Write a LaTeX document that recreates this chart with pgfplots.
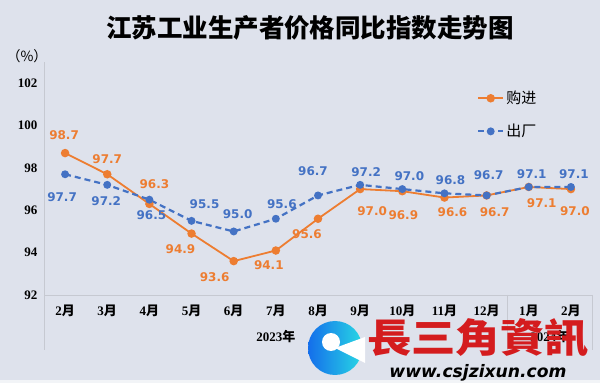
\documentclass[border=0pt]{standalone}
\usepackage{pgfplots}
\pgfplotsset{compat=1.18}
\usepackage{pgfplotstable}
\usepackage{graphicx}
\usepackage{fontspec}
\setmainfont{Liberation Serif}
\newfontfamily\cjk{Noto Sans CJK SC}
\newfontfamily\tc{Noto Sans CJK TC}
\newfontfamily\lab{DejaVu Sans}
\definecolor{bg}{RGB}{222,226,236}
\definecolor{orng}{RGB}{237,125,49}
\definecolor{blu}{RGB}{68,114,196}
\definecolor{axgray}{RGB}{198,201,209}
\definecolor{wmred}{RGB}{212,28,30}
\newcommand\yue{{\cjk 月}}

\pgfplotstableread{
x y dx dy
0 98.7 -1 18
1 97.7 0 15
2 96.3 5 20
3 94.9 -11 -16
4 93.6 -19 -16
5 94.1 -7 -15
6 95.6 -11 -15
7 97.0 12 -22
8 96.9 1 -24
9 96.6 8 -15
10 96.7 8 -17
11 97.1 13 -16
12 97.0 4 -22
}\buy
\pgfplotstableread{
x y dx dy
0 97.7 -3 -23
1 97.2 -1 -16
2 96.5 2 -15
3 95.5 13 17
4 95.0 4 17
5 95.6 6 15
6 96.7 -5 24
7 97.2 6 13
8 97.0 7 13
9 96.8 6 13
10 96.7 2 20
11 97.1 3 13
12 97.1 3 13
}\sell

\begin{document}
\begin{tikzpicture}
\fill[bg] (0pt,0pt) rectangle (600pt,383pt);
\fill[white!60!bg] (0pt,0pt) rectangle (600pt,3pt);
\node[font=\cjk\bfseries\fontsize{25.5}{26}\selectfont] at (310pt,355pt) {江苏工业生产者价格同比指数走势图};
\node[font=\cjk\fontsize{14}{14}\selectfont] at (27pt,327pt) {（\%）};
\begin{axis}[
  at={(44pt,88pt)}, anchor=south west,
  scale only axis, width=548pt, height=233pt,
  xmin=-0.5, xmax=12.5, ymin=92, ymax=103,
  axis lines*=left,
  axis line style={draw=axgray, line width=0.8pt},
  ytick={92,94,...,102},
  xtick={0,...,12},
  xticklabels={2\yue,3\yue,4\yue,5\yue,6\yue,7\yue,8\yue,9\yue,10\yue,11\yue,12\yue,1\yue,2\yue},
  major tick length=0pt,
  tick label style={font=\fontsize{13}{13}\selectfont\bfseries},
  yticklabel style={xshift=-3pt},
  xticklabel style={yshift=-6pt},
  /pgf/number format/assume math mode=true,
  clip=false,
  legend style={draw=none, fill=none, at={(0.79,0.884)}, anchor=north west,
    font=\cjk\fontsize{15}{15}\selectfont, row sep=15pt, inner sep=0pt,
    nodes={inner sep=2pt}},
  legend cell align=left,
  legend image code/.code={\draw[mark repeat=2,mark phase=2,#1] plot coordinates {(0pt,0pt) (12.5pt,0pt) (25pt,0pt)};},
]
\addplot[orng, line width=1.8pt, mark=*, mark size=3.3pt, mark options={solid},
  nodes near coords={\pgfmathprintnumber[fixed,fixed zerofill,precision=1]{\pgfplotspointmeta}},
  point meta=y,
  visualization depends on={\thisrow{dx}\as\dx},
  visualization depends on={\thisrow{dy}\as\dy},
  every node near coord/.append style={anchor=center, xshift=\dx pt, yshift=\dy pt,
    font=\lab\bfseries\fontsize{12}{12}\selectfont, text=orng}] table[x=x,y=y] {\buy};
\addlegendentry{购进}
\addplot[blu, line width=2.2pt, dash pattern=on 6pt off 4pt, mark=*, mark size=2.8pt, mark options={solid},
  nodes near coords={\pgfmathprintnumber[fixed,fixed zerofill,precision=1]{\pgfplotspointmeta}},
  point meta=y,
  visualization depends on={\thisrow{dx}\as\dx},
  visualization depends on={\thisrow{dy}\as\dy},
  every node near coord/.append style={anchor=center, xshift=\dx pt, yshift=\dy pt,
    font=\lab\bfseries\fontsize{12}{12}\selectfont, text=blu}] table[x=x,y=y] {\sell};
\addlegendentry{出厂}
\draw[axgray, line width=0.8pt] (axis cs:-0.5,92) -- ++(0pt,-55pt);
\draw[axgray, line width=0.8pt] (axis cs:10.5,92) -- ++(0pt,-55pt);
\draw[axgray, line width=0.8pt] (axis cs:12.5,92) -- ++(0pt,-55pt);
\node[font=\fontsize{13}{13}\selectfont\bfseries] at (axis cs:5,92) [yshift=-42pt] {2023{\cjk 年}};
\node[font=\fontsize{13}{13}\selectfont\bfseries] at (axis cs:11.5,92) [yshift=-42pt] {2024{\cjk 年}};
\end{axis}
% watermark overlay
\shade[left color={rgb,255:red,20;green,110;blue,235}, right color={rgb,255:red,40;green,215;blue,228}]
  (335pt,35pt) circle (27pt);
\fill[white] (335pt,35pt) -- (365pt,46pt) -- (365pt,20pt) -- cycle;
\fill[white] (331pt,41pt) circle (9pt);
\node[inner sep=0pt, text=wmred] at (478pt,45pt) {\resizebox{222pt}{34pt}{\tc\bfseries 長三角資訊}};
\node[inner sep=0pt] at (478pt,10pt) {\resizebox{177pt}{!}{\lab\bfseries\itshape www.csjzixun.com}};
\end{tikzpicture}
\end{document}
